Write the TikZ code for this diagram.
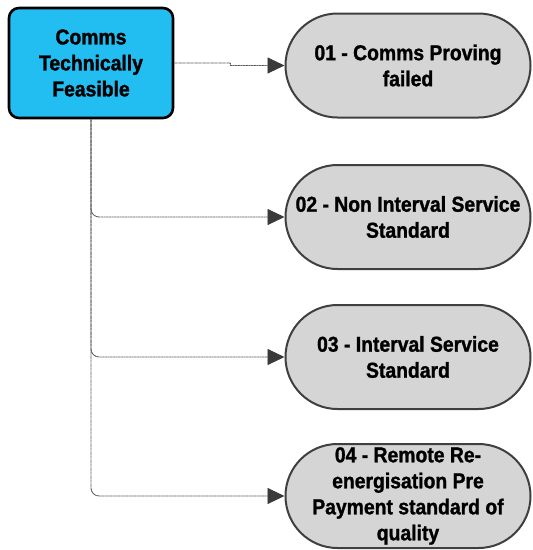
\documentclass[tikz,border=0pt]{standalone}
\usepackage{fontspec}
\setmainfont{Liberation Sans}[FakeStretch=0.9, BoldFeatures={FakeBold=1.3}]
\usetikzlibrary{arrows.meta,calc}
\definecolor{boxblue}{HTML}{22BDF1}
\definecolor{stadfill}{HTML}{D5D5D5}
\definecolor{stadline}{HTML}{3F3F3F}
\definecolor{connline}{HTML}{5A5A5A}
\definecolor{tipcol}{HTML}{3A3A3A}
\begin{document}
\begin{tikzpicture}[x=1pt,y=1pt,
  txt/.style={font=\bfseries\fontsize{21.5}{26}\selectfont, align=center, text=black},
  rootbox/.style={txt, draw=black, line width=2.6pt, fill=boxblue, rounded corners=10pt,
    minimum width=164pt, minimum height=110pt, inner sep=0pt},
  stadium/.style={txt, draw=stadline, line width=2pt, fill=stadfill, rounded corners=52pt,
    minimum width=245pt, minimum height=104pt, inner sep=0pt},
  conn/.style={draw=connline, line width=0.9pt, dash pattern=on 1.2pt off 0.4pt,
    -{Triangle[length=17pt 0,width=16pt 0,fill=tipcol,color=tipcol,sep=0pt]}}
]
\useasboundingbox (0,0) rectangle (533,-550);
\node[rootbox] (root) at (91,-63) {Comms\\Technically\\Feasible};
\node[stadium] (n1) at (408,-65.5) {01 - Comms Proving\\failed};
\node[stadium] (n2) at (408,-217) {02 - Non Interval Service\\Standard};
\node[stadium] (n3) at (408,-357) {03 - Interval Service\\Standard};
\node[stadium] (n4) at (408,-496) {04 - Remote Re-\\energisation Pre\\Payment standard of\\quality};
\draw[conn] (root.east) -- ++(56,0) -- ($(n1.west)+(-54,0)$) -- (n1.west);
\draw[conn, rounded corners=8pt] (root.south) |- (n2.west);
\draw[conn, rounded corners=8pt] (root.south) |- (n3.west);
\draw[conn, rounded corners=8pt] (root.south) |- (n4.west);
\end{tikzpicture}
\end{document}
